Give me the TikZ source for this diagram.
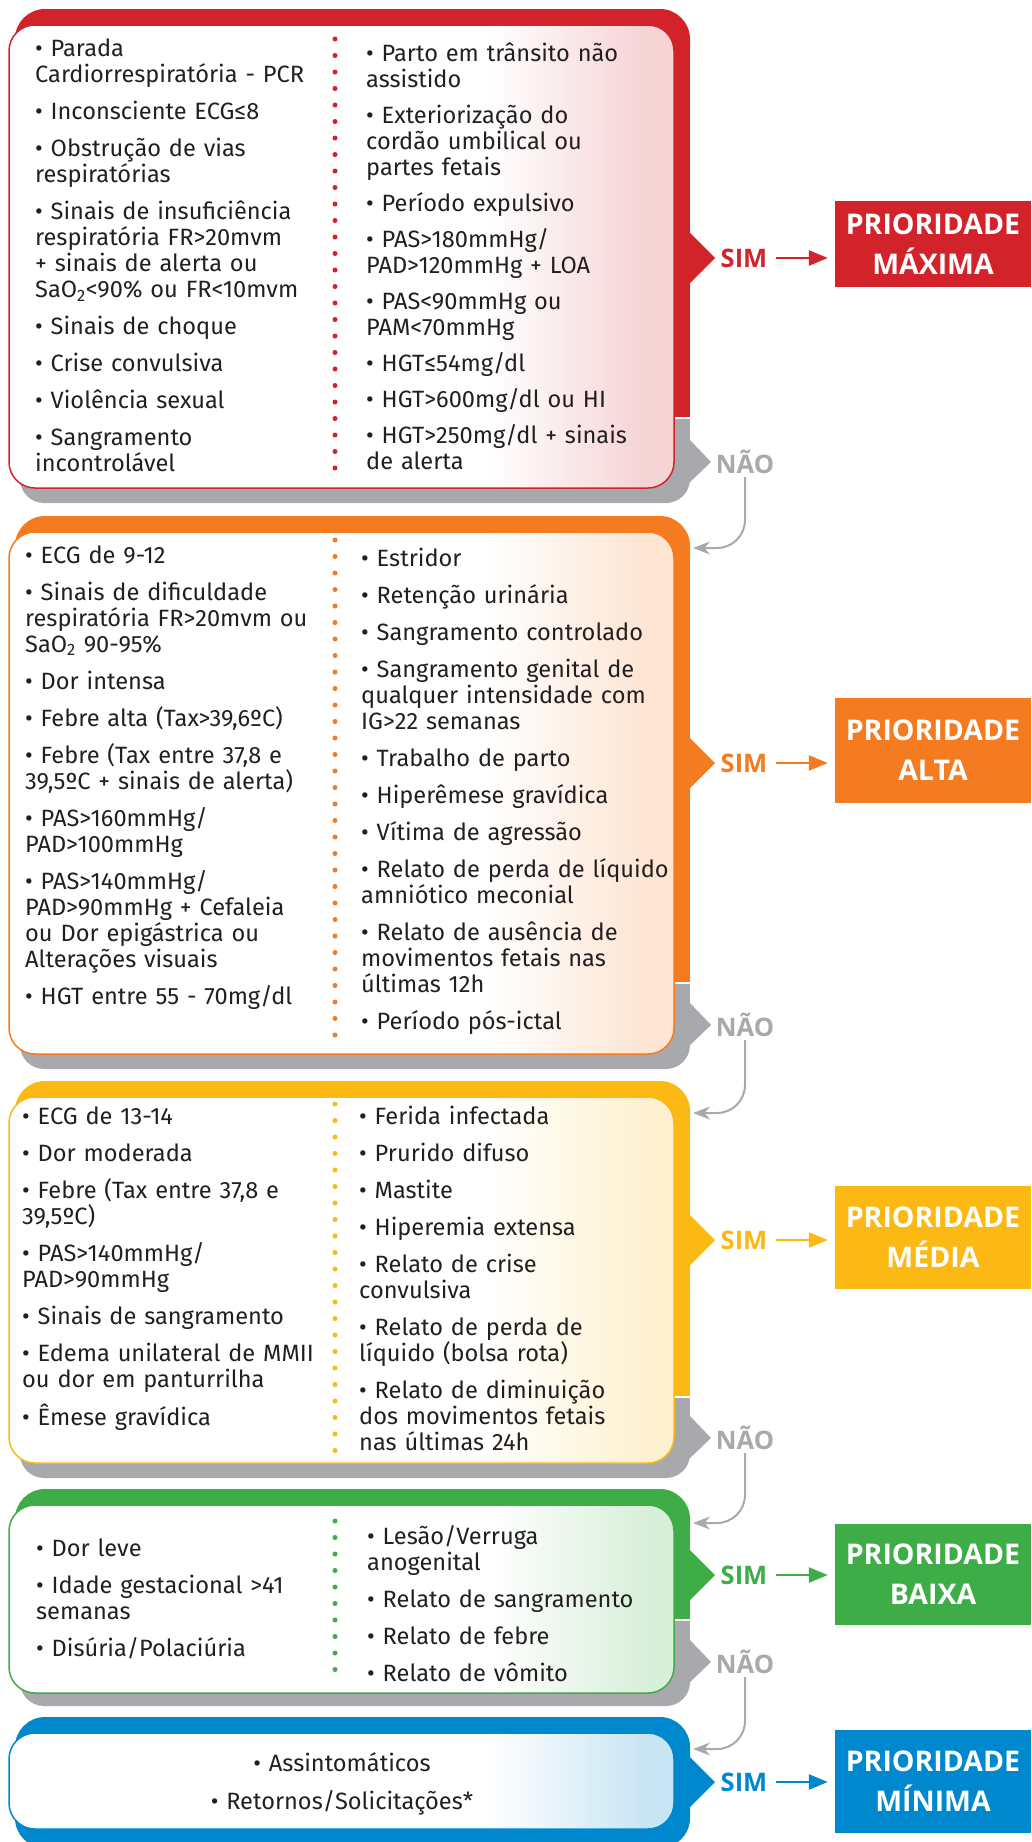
\documentclass[tikz,border=0pt]{standalone}
\usepackage{fontspec}
\setmainfont{Fira Sans}
\newfontfamily\headfont{Open Sans}
\usetikzlibrary{arrows.meta}

\definecolor{cred}{HTML}{D2232A}
\definecolor{corange}{HTML}{F47B20}
\definecolor{cyellow}{HTML}{FCB813}
\definecolor{cgreen}{HTML}{3EAD48}
\definecolor{cblue}{HTML}{0088CE}
\definecolor{cgrey}{HTML}{A7A9AC}
\definecolor{ink}{HTML}{231F20}
\colorlet{tint}{white}
\pgfdeclarehorizontalshading[tint]{boxshade}{100bp}{color(0bp)=(white); color(61bp)=(white); color(73bp)=(tint); color(100bp)=(tint)}

\tikzset{
  col/.style={font=\fontsize{23.6}{26}\selectfont, text=ink, text width=320pt, align=left, anchor=base west, inner sep=0pt},
  listbox/.style={draw=#1, line width=1.5pt, rounded corners=26pt, shading=boxshade},
  divider/.style={draw=#1, line width=5pt, line cap=round, dash pattern=on 0pt off 16.5pt},
  prio/.style={fill=#1, text=white, font=\headfont\bfseries\fontsize{28.5}{40}\selectfont, minimum width=196pt, align=center, inner sep=0pt},
  simlabel/.style={text=#1, font=\headfont\bfseries\fontsize{25.5}{30}\selectfont, inner sep=0pt},
  naolabel/.style={text=cgrey, font=\headfont\bfseries\fontsize{25.5}{30}\selectfont, inner sep=0pt},
  simarrow/.style={draw=#1, line width=2.5pt, -{Triangle[length=19pt,width=15pt]}, shorten <=9pt, shorten >=7pt},
  naoarrow/.style={draw=cgrey, line width=2pt, rounded corners=28pt, -{Stealth[length=17pt,width=13pt]}}
}

\begin{document}
\begin{tikzpicture}[x=1pt,y=-1pt]
    \useasboundingbox (0,0) rectangle (1031,1842);
    \fill[white] (0,0) rectangle (1031,1842);

    % the four blocks with a grey "no" part
    \foreach \c/\yt/\ysplit/\ybot/\ysim/\ynao/\yin in {cred/9/417/503/258/462/488, corange/516/982/1069/763/1025/1054, cyellow/1081/1396/1478/1240/1438/1463, cgreen/1489/1619/1706/1575/1662/1693}{
        \fill[cgrey, rounded corners=24pt] (20,\ysplit+2) rectangle (690,\ybot);
        \fill[cgrey] (20,\ysplit+2) rectangle (690,\ysplit+30);
        \fill[cgrey] (690,\ynao-22) -- (711,\ynao) -- (688,\ynao+22) -- cycle;
        \fill[\c, rounded corners=30pt] (15,\yt) rectangle (690,\yt+70);
        \fill[\c] (15,\yt+35) rectangle (690,\ysplit);
        \fill[\c] (690,\ysim-25) -- (715,\ysim) -- (690,\ysim+25) -- cycle;
        \colorlet{tint}{\c!20}
        \shadedraw[listbox=\c] (9,\yt+16) rectangle (674,\yin);
    }
    % last block
    \fill[cblue, rounded corners=30pt] (15,1717) rectangle (690,1848);
    \fill[cblue] (690,1757) -- (715,1782) -- (690,1807) -- cycle;
    \colorlet{tint}{cblue!22}
    \shadedraw[listbox=cblue] (9,1733) rectangle (674,1829);

    % dotted dividers
    \draw[divider=cred] (335,39) -- (335,475);
    \draw[divider=corange] (335,540) -- (335,1037);
    \draw[divider=cyellow] (335,1104) -- (335,1454);
    \draw[divider=cgreen] (335,1521) -- (335,1675);

    % lists
    \node[col] (max1) at (35,56.5) {• Parada\\Cardiorrespiratória - PCR\\[11pt]• Inconsciente ECG≤8\\[11pt]• Obstrução de vias\\respiratórias\\[11pt]• Sinais de insuficiência\\respiratória FR>20mvm\\+ sinais de alerta ou\\SaO\textsubscript{2}<90\% ou FR<10mvm\\[11pt]• Sinais de choque\\[11pt]• Crise convulsiva\\[11pt]• Violência sexual\\[11pt]• Sangramento\\incontrolável};
    \node[col] (max2) at (366,61.5) {• Parto em trânsito não\\assistido\\[10pt]• Exteriorização do\\cordão umbilical ou\\partes fetais\\[10pt]• Período expulsivo\\[10pt]• PAS>180mmHg/\\PAD>120mmHg + LOA\\[10pt]• PAS<90mmHg ou\\PAM<70mmHg\\[10pt]• HGT≤54mg/dl\\[10pt]• HGT>600mg/dl ou HI\\[10pt]• HGT>250mg/dl + sinais\\de alerta};
    \node[col] (alta1) at (25,563) {• ECG de 9-12\\[11pt]• Sinais de dificuldade\\respiratória FR>20mvm ou\\SaO\textsubscript{2} 90-95\%\\[11pt]• Dor intensa\\[11pt]• Febre alta (Tax>39,6ºC)\\[11pt]• Febre (Tax entre 37,8 e\\39,5ºC + sinais de alerta)\\[11pt]• PAS>160mmHg/\\PAD>100mmHg\\[11pt]• PAS>140mmHg/\\PAD>90mmHg + Cefaleia\\ou Dor epigástrica ou\\Alterações visuais\\[11pt]• HGT entre 55 - 70mg/dl};
    \node[col] (alta2) at (361,566) {• Estridor\\[11pt]• Retenção urinária\\[11pt]• Sangramento controlado\\[11pt]• Sangramento genital de\\qualquer intensidade com\\IG>22 semanas\\[11pt]• Trabalho de parto\\[11pt]• Hiperêmese gravídica\\[11pt]• Vítima de agressão\\[11pt]• Relato de perda de líquido\\amniótico meconial\\[11pt]• Relato de ausência de\\movimentos fetais nas\\últimas 12h\\[11pt]• Período pós-ictal};
    \node[col] (media1) at (22,1124) {• ECG de 13-14\\[11pt]• Dor moderada\\[11pt]• Febre (Tax entre 37,8 e\\39,5ºC)\\[11pt]• PAS>140mmHg/\\PAD>90mmHg\\[11pt]• Sinais de sangramento\\[11pt]• Edema unilateral de MMII\\ou dor em panturrilha\\[11pt]• Êmese gravídica};
    \node[col] (media2) at (359,1124.5) {• Ferida infectada\\[11pt]• Prurido difuso\\[11pt]• Mastite\\[11pt]• Hiperemia extensa\\[11pt]• Relato de crise\\convulsiva\\[11pt]• Relato de perda de\\líquido (bolsa rota)\\[11pt]• Relato de diminuição\\dos movimentos fetais\\nas últimas 24h};
    \node[col] (baixa1) at (36,1556.5) {• Dor leve\\[11pt]• Idade gestacional >41\\semanas\\[11pt]• Disúria/Polaciúria};
    \node[col] (baixa2) at (367,1544.5) {• Lesão/Verruga\\anogenital\\[11pt]• Relato de sangramento\\[11pt]• Relato de febre\\[11pt]• Relato de vômito};
    \node[col, align=center, anchor=base] (minima) at (342,1771.5) {• Assintomáticos\\[12pt]• Retornos/Solicitações*};

    % yes: priority boxes
    \node[simlabel=cred] (sim1) at (744,258) {SIM};
    \node[simlabel=corange] (sim2) at (744,763) {SIM};
    \node[simlabel=cyellow] (sim3) at (744,1240) {SIM};
    \node[simlabel=cgreen] (sim4) at (744,1575) {SIM};
    \node[simlabel=cblue] (sim5) at (744,1782) {SIM};
    \node[prio=cred, minimum height=86pt] (prio1) at (933,244) {PRIORIDADE\\MÁXIMA};
    \node[prio=corange, minimum height=105pt] (prio2) at (933,750.5) {PRIORIDADE\\ALTA};
    \node[prio=cyellow, minimum height=103pt] (prio3) at (933,1237.5) {PRIORIDADE\\MÉDIA};
    \node[prio=cgreen, minimum height=101pt] (prio4) at (933,1574.5) {PRIORIDADE\\BAIXA};
    \node[prio=cblue, minimum height=103pt] (prio5) at (933,1781.5) {PRIORIDADE\\MÍNIMA};
    \draw[simarrow=cred] (sim1.east) -- (sim1.east -| prio1.west);
    \draw[simarrow=corange] (sim2.east) -- (sim2.east -| prio2.west);
    \draw[simarrow=cyellow] (sim3.east) -- (sim3.east -| prio3.west);
    \draw[simarrow=cgreen] (sim4.east) -- (sim4.east -| prio4.west);
    \draw[simarrow=cblue] (sim5.east) -- (sim5.east -| prio5.west);

    % no: go to next block
    \node[naolabel] (nao1) at (745,462) {NÃO};
    \node[naolabel] (nao2) at (745,1025) {NÃO};
    \node[naolabel] (nao3) at (745,1438) {NÃO};
    \node[naolabel] (nao4) at (745,1662) {NÃO};
    \coordinate (in2) at (693,548);
    \coordinate (in3) at (693,1113);
    \coordinate (in4) at (693,1523);
    \coordinate (in5) at (693,1749);
    \draw[naoarrow] (nao1.south) ++(0,3) |- (in2);
    \draw[naoarrow] (nao2.south) ++(0,3) |- (in3);
    \draw[naoarrow] (nao3.south) ++(0,3) |- (in4);
    \draw[naoarrow] (nao4.south) ++(0,3) |- (in5);
\end{tikzpicture}
\end{document}
